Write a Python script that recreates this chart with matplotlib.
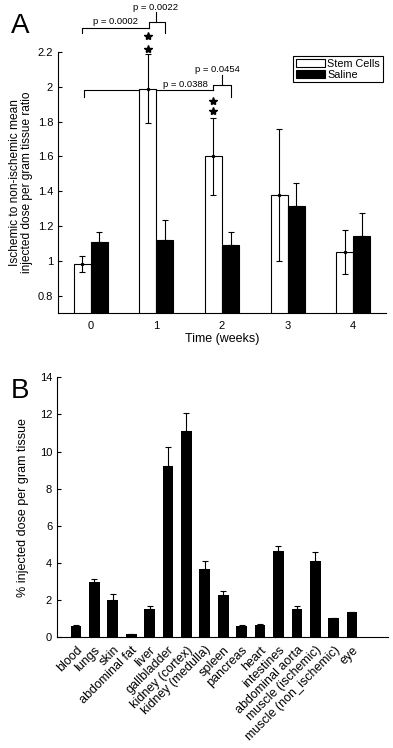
import numpy as np
import matplotlib
matplotlib.use("Agg")
import matplotlib.pyplot as plt
from matplotlib.patches import Patch

plt.rcParams['font.family'] = ['Liberation Sans', 'DejaVu Sans']

# ---------------- Data: panel A ----------------
weeks = [0, 1, 2, 3, 4]
stem_mean = [0.98, 1.99, 1.60, 1.38, 1.05]
stem_err = [0.045, 0.20, 0.22, 0.38, 0.125]
saline_mean = [1.11, 1.12, 1.09, 1.315, 1.145]
saline_err = [0.055, 0.115, 0.077, 0.13, 0.13]
pvalues = ["p = 0.0002", "p = 0.0022", "p = 0.0388", "p = 0.0454"]

# ---------------- Data: panel B ----------------
tissues = ["blood", "lungs", "skin", "abdominal fat", "liver", "gallbladder",
           "kidney (cortex)", "kidney (medulla)", "spleen", "pancreas", "heart",
           "intestines", "abdominal aorta", "muscle (ischemic)",
           "muscle (non_ischemic)", "eye"]
dose_mean = [0.59, 2.94, 2.0, 0.14, 1.5, 9.2, 11.1, 3.64, 2.28, 0.61, 0.66,
             4.62, 1.5, 4.12, 1.02, 1.34]
dose_err = [0.04, 0.18, 0.33, 0.03, 0.18, 1.06, 0.96, 0.46, 0.18, 0.03, 0.03,
            0.29, 0.19, 0.47, 0.02, 0.03]

fig = plt.figure(figsize=(3.93, 7.48), dpi=100)

# ================= Panel A =================
axA = fig.add_axes([58/393, 1-313/748, 328/393, 261/748])
x = np.array(weeks, dtype=float)
w = 0.26
xs = x - w/2
xb = x + w/2
axA.bar(xs, stem_mean, width=w, color='white', edgecolor='black', linewidth=0.8, zorder=2)
axA.bar(xb, saline_mean, width=w, color='black', edgecolor='black', linewidth=0.8, zorder=2)
axA.errorbar(xs, stem_mean, yerr=stem_err, fmt='o', ms=1.5, color='black',
             elinewidth=0.8, capsize=2.5, capthick=0.8, zorder=3)
axA.errorbar(xb, saline_mean, yerr=[np.zeros(5), saline_err], fmt='none', color='black',
             elinewidth=0.8, capsize=2.5, capthick=0.8, zorder=3)

axA.set_xlim(-0.5, 4.5)
axA.set_ylim(0.7, 2.2)
axA.set_yticks([0.8, 1.0, 1.2, 1.4, 1.6, 1.8, 2.0, 2.2])
axA.set_yticklabels(['0.8', '1', '1.2', '1.4', '1.6', '1.8', '2', '2.2'])
axA.set_xticks(weeks)
for s in ['top', 'right']:
    axA.spines[s].set_visible(False)
axA.spines['left'].set_linewidth(0.8)
axA.spines['bottom'].set_linewidth(0.8)
axA.tick_params(direction='in', length=3, width=0.8, labelsize=8)
axA.tick_params(axis='x', pad=6)
axA.set_xlabel("Time (weeks)", fontsize=9, labelpad=1)
axA.set_ylabel("Ischemic to non-ischemic mean\ninjected dose per gram tissue ratio",
               fontsize=8.6, labelpad=3, linespacing=1.0)

lk = dict(color='black', lw=0.8, clip_on=False)
# bracket week0 -> week1
xl, xm, xr = xs[0], 0.88, xb[1]
axA.plot([xl, xl, xm], [2.31, 2.34, 2.34], **lk)
axA.plot([xm, xm, xr, xr], [2.34, 2.375, 2.375, 2.31], **lk)
axA.plot([xs[1] + w/2, xs[1] + w/2], [2.375, 2.43], **lk)
axA.text(0.38, 2.375, pvalues[0], fontsize=6.8, ha='center', va='center')
axA.text(0.99, 2.458, pvalues[1], fontsize=6.8, ha='center', va='center')
# bracket week0 -> week2
xl2, xm2, xr2 = xs[0] + 0.02, 1.87, xb[2]
axA.plot([xl2, xl2, xm2], [1.944, 1.98, 1.98], color='black', lw=0.8, zorder=1)
axA.plot([xm2, xm2, xr2, xr2], [1.98, 2.008, 2.008, 1.944], color='black', lw=0.8, zorder=1)
axA.plot([2.0, 2.0], [2.008, 2.065], color='black', lw=0.8, zorder=1)
axA.text(1.45, 2.012, pvalues[2], fontsize=6.8, ha='center', va='center')
axA.text(1.93, 2.098, pvalues[3], fontsize=6.8, ha='center', va='center')
# stars
axA.plot([xs[1], xs[1]], [2.22, 2.29], ls='none', marker='*', ms=6, color='black', clip_on=False)
axA.plot([xs[2], xs[2]], [1.862, 1.916], ls='none', marker='*', ms=6, color='black', clip_on=False)

handles = [Patch(facecolor='white', edgecolor='black', linewidth=0.8),
           Patch(facecolor='black', edgecolor='black', linewidth=0.8)]
leg = axA.legend(handles, ["Stem Cells", "Saline"], loc='upper right',
                 bbox_to_anchor=(0.99, 0.985), fontsize=7.8, frameon=True, fancybox=False,
                 edgecolor='black', framealpha=1, borderpad=0.25, labelspacing=0.1,
                 handlelength=2.7, handleheight=0.7, handletextpad=0.2, borderaxespad=0)
leg.get_frame().set_linewidth(0.8)

fig.text(11/393, 1-33/748, "A", fontsize=20)

# ================= Panel B =================
axB = fig.add_axes([57/393, 1-637/748, 331/393, 259.7/748])
xi = np.arange(len(tissues))
axB.bar(xi, dose_mean, width=0.58, color='black', zorder=2)
axB.errorbar(xi, dose_mean, yerr=[np.zeros(len(xi)), dose_err], fmt='none', color='black',
             elinewidth=0.8, capsize=2, capthick=0.8, zorder=3)
axB.set_xlim(-1.03, 16.95)
axB.set_ylim(0, 14)
axB.set_yticks(np.arange(0, 15, 2))
axB.set_xticks(xi)
axB.set_xticklabels(tissues, rotation=45, ha='right', rotation_mode='anchor', fontsize=9)
for s in ['top', 'right']:
    axB.spines[s].set_visible(False)
axB.spines['left'].set_linewidth(0.8)
axB.spines['bottom'].set_linewidth(0.8)
axB.tick_params(axis='y', direction='in', length=3, width=0.8, labelsize=8)
axB.tick_params(axis='x', length=0, pad=5)
axB.set_ylabel("% injected dose per gram tissue", fontsize=9, labelpad=8)

fig.text(11/393, 1-398/748, "B", fontsize=20)

fig.savefig("out.png", dpi=100)
